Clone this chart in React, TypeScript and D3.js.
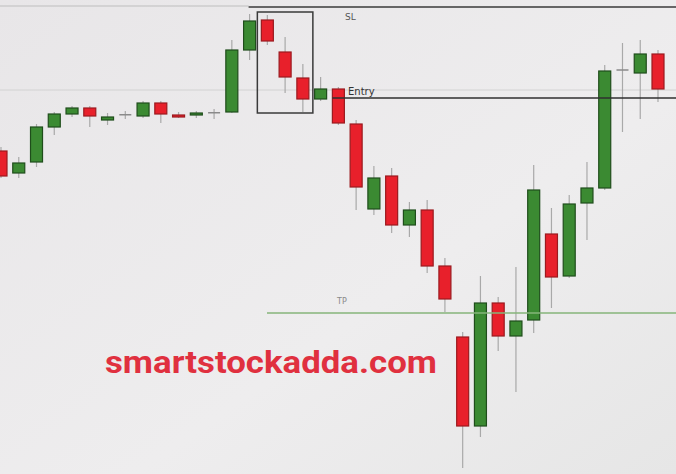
import React from "react";
import * as d3 from "d3";

const W = 676;
const H = 474;

// OHLC values (price units)
const opens = [323, 301, 312, 347, 360, 366, 354, 359, 358, 371, 359, 360, 361, 362, 424, 454, 422, 396, 375, 385, 350, 265, 298, 249, 264, 208, 137, 48, 171, 138, 154, 240, 198, 271, 286, 404, 401, 420];
const highs = [327, 317, 350, 362, 368, 368, 361, 363, 373, 373, 362, 363, 365, 434, 460, 459, 437, 410, 397, 387, 354, 308, 306, 272, 274, 216, 142, 198, 177, 207, 309, 266, 279, 312, 409, 431, 434, 424];
const lows = [296, 296, 307, 339, 357, 347, 349, 355, 356, 351, 356, 356, 355, 361, 414, 429, 381, 362, 373, 349, 264, 259, 241, 237, 201, 162, 6, 37, 123, 82, 141, 166, 196, 234, 284, 342, 355, 372];
const closes = [298, 311, 347, 360, 366, 358, 357, 359.5, 371, 360, 357, 361, 361.5, 424, 453, 433, 397, 375, 385, 351, 287, 296, 249, 264, 208, 175, 48, 171, 138, 153, 284, 197, 270, 286, 403, 404, 420, 385];

const levelSL = 467;
const levelEntry = 376;
const levelTP = 161;
const levelFaint = 384;
const levelTopFaint = 468;

const labelSL = "SL";
const labelEntry = "Entry";
const labelTP = "TP";
const watermark = "smartstockadda.com";

// box around the three bearish candles (indices)
const boxFrom = 15;
const boxTo = 17;

export default function App() {
  const n = opens.length;
  const x = d3.scaleLinear().domain([0, n - 1]).range([1, 658]);
  const y = d3.scaleLinear().domain([0, 474]).range([H, 0]);
  const bw = 12;

  const candles = d3.range(n).map((i) => {
    const o = opens[i], c = closes[i], h = highs[i], l = lows[i];
    const doji = Math.abs(o - c) < 1;
    const up = c >= o;
    const top = y(Math.max(o, c));
    const bot = y(Math.min(o, c));
    return { i, o, c, h, l, doji, up, top, bot };
  });

  const boxTop = y(d3.max(d3.range(boxFrom, boxTo + 1), (i) => highs[i])!) - 3;
  const boxBot = y(d3.min(d3.range(boxFrom, boxTo + 1), (i) => lows[i])!) + 1;

  return (
    <svg width={W} height={H} style={{ position: "fixed", top: 0, left: 0, background: "#ebebeb" }}>
      <defs>
        <linearGradient id="bg" x1="0" y1="0" x2="1" y2="1">
          <stop offset="0" stopColor="#e8e6e8" />
          <stop offset="0.6" stopColor="#eeedee" />
          <stop offset="1" stopColor="#e6e6e6" />
        </linearGradient>
      </defs>
      <rect width={W} height={H} fill="url(#bg)" />
      {/* faint grid lines */}
      <line x1={0} x2={W} y1={y(levelFaint)} y2={y(levelFaint)} stroke="#d2d2d2" strokeWidth={1} />
      <line x1={0} x2={x(14) - 1} y1={y(levelTopFaint)} y2={y(levelTopFaint)} stroke="#bdbdbd" strokeWidth={1.2} />
      {/* wicks */}
      {candles.map((d) => (
        <line key={"w" + d.i} x1={x(d.i)} x2={x(d.i)} y1={y(d.h)} y2={y(d.l)} stroke="#a9a9a9" strokeWidth={1.2} />
      ))}
      {/* bodies */}
      {candles.map((d) =>
        d.doji ? (
          <line key={"b" + d.i} x1={x(d.i) - bw / 2} x2={x(d.i) + bw / 2} y1={(d.top + d.bot) / 2} y2={(d.top + d.bot) / 2} stroke="#8a8a8a" strokeWidth={1.5} />
        ) : (
          <rect
            key={"b" + d.i}
            x={x(d.i) - bw / 2}
            y={d.top}
            width={bw}
            height={Math.max(2, d.bot - d.top)}
            fill={d.up ? "#3b8a32" : "#e8202b"}
            stroke={d.up ? "#1f4d1b" : "#9b1a1f"}
            strokeWidth={1.2}
          />
        )
      )}
      {/* SL line */}
      <line x1={x(14) - 1} x2={W} y1={y(levelSL)} y2={y(levelSL)} stroke="#3a3a3a" strokeWidth={1.5} />
      <text x={345} y={y(levelSL) + 13} fontFamily="DejaVu Sans, sans-serif" fontSize={9} fill="#555">{labelSL}</text>
      {/* Entry line */}
      <line x1={x(19) - 6} x2={W} y1={y(levelEntry)} y2={y(levelEntry)} stroke="#2f2f2f" strokeWidth={1.5} />
      <text x={348} y={y(levelEntry) - 3} fontFamily="DejaVu Sans, sans-serif" fontSize={10} fill="#333">{labelEntry}</text>
      {/* TP line */}
      <line x1={267} x2={W} y1={y(levelTP)} y2={y(levelTP)} stroke="#86b47a" strokeWidth={1.5} />
      <text x={337} y={y(levelTP) - 9} fontFamily="DejaVu Sans, sans-serif" fontSize={8} fill="#8a8a8a">{labelTP}</text>
      {/* pattern box */}
      <rect x={x(boxFrom) - 10} y={boxTop} width={x(boxTo) - x(boxFrom) + 20} height={boxBot - boxTop} fill="none" stroke="#3a3a3a" strokeWidth={1.5} />
      {/* watermark */}
      <text x={105} y={373} fontFamily="Roboto, sans-serif" fontWeight={700} fontSize={31} fill="#e0303f" textLength={332} lengthAdjust="spacingAndGlyphs">{watermark}</text>
    </svg>
  );
}
